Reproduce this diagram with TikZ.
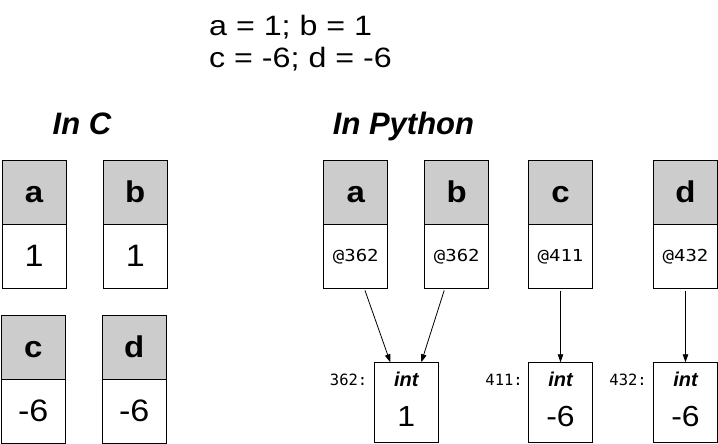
\documentclass[tikz,border=0pt]{standalone}
\usepackage{fontspec}
\setmainfont{Liberation Sans}
\newfontfamily\monofnt{DejaVu Sans Mono}
\newfontfamily\widefnt[FakeStretch=1.15]{Liberation Sans}
\newfontfamily\widevalfnt[FakeStretch=1.1]{Liberation Sans}
\newfontfamily\widehdrfnt[FakeStretch=1.1]{Liberation Sans}
\newfontfamily\widemonofnt[FakeStretch=1.15]{DejaVu Sans Mono}
\usetikzlibrary{arrows.meta}
\definecolor{hdrgray}{HTML}{CCCCCC}
\tikzset{
  cell/.style={draw=black, line width=1pt, minimum width=64pt, minimum height=64pt, inner sep=0pt, anchor=center},
  hdr/.style={cell, fill=hdrgray, text height=20pt, text depth=0pt, font=\fontsize{30}{30}\selectfont\widehdrfnt\bfseries},
  val/.style={cell, fill=white, text height=21.4pt, text depth=0pt, font=\fontsize{31}{31}\selectfont\widevalfnt},
  ptr/.style={cell, fill=white, text height=11pt, text depth=0pt, font=\fontsize{16.5}{19}\selectfont\widemonofnt},
  objbox/.style={draw=black, line width=1pt, minimum width=64pt, minimum height=80pt, inner sep=0pt},
  typelbl/.style={inner sep=0pt, anchor=base, font=\fontsize{20}{20}\selectfont\bfseries\itshape},
  objval/.style={inner sep=0pt, anchor=base, font=\fontsize{29}{31}\selectfont\widevalfnt},
  addr/.style={inner sep=0pt, anchor=base east, font=\fontsize{15.5}{17}\selectfont\monofnt},
  title/.style={inner sep=0pt, anchor=base, font=\fontsize{31}{32}\selectfont\bfseries\itshape},
  code/.style={inner sep=0pt, anchor=base west, font=\fontsize{28}{31}\selectfont\widefnt},
  conn/.style={line width=0.8pt, shorten <=2pt, -{Triangle[length=8pt,width=5.5pt]}}
}
\begin{document}
\begin{tikzpicture}[x=1pt,y=-1pt]
\useasboundingbox (0,0) rectangle (718,444);
% code lines
\node[code] (line1) at (209,35.5) {a = 1; b = 1};
\node[code] (line2) at (209,67) {c = -6; d = -6};
% titles
\node[title] (tc) at (82,135) {In C};
\node[title] (tp) at (403.5,135) {In Python};
% C variables
\node[hdr] (ca) at (34,192) {a};
\node[val] (cav) at (34,256) {1};
\node[hdr] (cb) at (135.3,192) {b};
\node[val] (cbv) at (135.3,256) {1};
\node[hdr] (cc) at (33.3,347) {c};
\node[val] (ccv) at (33.3,411) {-6};
\node[hdr] (cd) at (134.3,347) {d};
\node[val] (cdv) at (134.3,411) {-6};
% Python names
\node[hdr] (pa) at (355.8,192) {a};
\node[ptr] (pav) at (355.8,256) {@362};
\node[hdr] (pb) at (456.8,192) {b};
\node[ptr] (pbv) at (456.8,256) {@362};
\node[hdr] (pc) at (560.5,192) {c};
\node[ptr] (pcv) at (560.5,256) {@411};
\node[hdr] (pd) at (685.5,192) {d};
\node[ptr] (pdv) at (685.5,256) {@432};
% int objects
\node[objbox] (i1) at (406.3,402.8) {};
\node[typelbl] (i1t) at (406.3,386) {int};
\node[objval] (i1v) at (406.3,426) {1};
\node[addr] (i1a) at (367.5,385) {362:};
\node[objbox] (i2) at (560.5,402.8) {};
\node[typelbl] (i2t) at (560.5,386) {int};
\node[objval] (i2v) at (560.5,426) {-6};
\node[addr] (i2a) at (523,385) {411:};
\node[objbox] (i3) at (685.5,402.8) {};
\node[typelbl] (i3t) at (685.5,386) {int};
\node[objval] (i3v) at (685.5,426) {-6};
\node[addr] (i3a) at (647,385) {432:};
% references
\draw[conn] ([xshift=8.5pt]pav.south) -- ([xshift=-16pt]i1.north);
\draw[conn] ([xshift=-12pt]pbv.south) -- ([xshift=15pt]i1.north);
\draw[conn] (pcv.south) -- (i2.north);
\draw[conn] (pdv.south) -- (i3.north);
\end{tikzpicture}
\end{document}
